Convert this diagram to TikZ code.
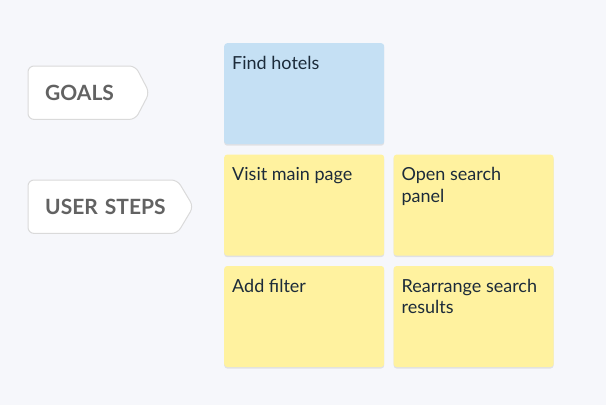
\documentclass[tikz,border=0pt]{standalone}
\usepackage{fontspec}
\setmainfont{Lato}
\usepackage{tikz}
\usetikzlibrary{positioning,shadows,backgrounds}
\definecolor{bgcol}{HTML}{F6F7FB}
\definecolor{tagline}{HTML}{DADADA}
\definecolor{taggray}{HTML}{626262}
\definecolor{goalblue}{HTML}{C5E0F4}
\definecolor{stepyellow}{HTML}{FFF29F}
\definecolor{cardtxt}{HTML}{1C2B3A}
\newcommand{\cardtext}[1]{\parbox[t][85pt][t]{144pt}{\raggedright\rightskip=6pt plus 1fil\rule{0pt}{18pt}#1}}
\tikzstyle{tag} = [anchor=north west,minimum height=53pt,inner xsep=17pt,align=left,font=\bfseries\fontsize{21}{24}\selectfont,text=taggray]
\tikzstyle{tagedge} = [draw=tagline,fill=white,line width=1pt,rounded corners=6pt]
\tikzstyle{card} = [inner sep=8pt,rounded corners=3pt,font=\fontsize{18}{21.5}\selectfont,text=cardtxt,drop shadow={shadow xshift=0pt,shadow yshift=-1.5pt,opacity=.18}]

\begin{document}
\begin{tikzpicture}[x=1pt,y=1pt]
	\useasboundingbox (0,0) rectangle (606,-405);
	% row labels
	\node[tag,minimum width=107pt,text width=73pt] (goals) at (28,-66) {GOALS};
	\node[tag,minimum width=149pt,text width=115pt] (steps) at (28,-180) {\mbox{USER STEPS}};
	\begin{pgfonlayer}{background}
		\fill[bgcol] (0,0) rectangle (606,-405);
		\draw[tagedge] (goals.north west) -- (goals.north east) -- ([xshift=14pt]goals.east) -- (goals.south east) -- (goals.south west) -- cycle;
		\draw[tagedge] (steps.north west) -- (steps.north east) -- ([xshift=16pt]steps.east) -- (steps.south east) -- (steps.south west) -- cycle;
	\end{pgfonlayer}
	% sticky notes
	\node[card,fill=goalblue,anchor=north west] (hotels) at (224,-43) {\cardtext{Find hotels}};
	\node[card,fill=stepyellow,below=10pt of hotels] (visit) {\cardtext{Visit main page}};
	\node[card,fill=stepyellow,right=9pt of visit] (search) {\cardtext{Open search panel}};
	\node[card,fill=stepyellow,below=10pt of visit] (filter) {\cardtext{Add filter}};
	\node[card,fill=stepyellow,right=9pt of filter] (results) {\cardtext{Rearrange search results}};
\end{tikzpicture}
\end{document}
